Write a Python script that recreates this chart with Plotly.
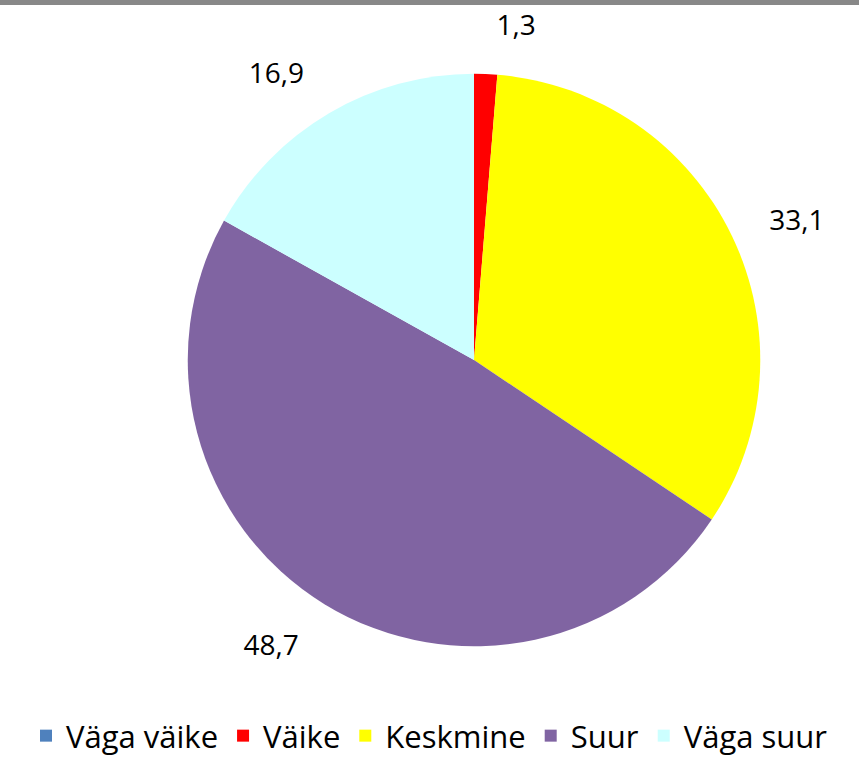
import plotly.graph_objects as go

categories = ["Väga väike", "Väike", "Keskmine", "Suur", "Väga suur"]
values = [0.0, 1.3, 33.1, 48.7, 16.9]
colors = ["#4F81BD", "#FF0000", "#FFFF00", "#8064A2", "#CCFFFF"]

labels_txt = [(f"{v:.1f}".replace(".", ",") if v > 0 else "") for v in values]

W, H = 859, 763
cx, cy, r = 474, 359, 287
r_lab = 318
FONT = "Open Sans, Noto Sans, sans-serif"


def dom(rad):
    return dict(x=[(cx - rad) / W, (cx + rad) / W], y=[(H - cy - rad) / H, (H - cy + rad) / H])


fig = go.Figure()
# visible pie
fig.add_trace(go.Pie(
    labels=categories,
    values=values,
    textinfo="none",
    sort=False,
    direction="clockwise",
    rotation=0,
    marker=dict(colors=colors, line=dict(width=0)),
    domain=dom(r),
    hoverinfo="label+value",
))
# transparent pie carrying the data labels slightly further out
fig.add_trace(go.Pie(
    labels=categories,
    values=values,
    text=labels_txt,
    textinfo="text",
    textposition="outside",
    sort=False,
    direction="clockwise",
    rotation=0,
    marker=dict(colors=["rgba(0,0,0,0)"] * len(values), line=dict(width=0)),
    textfont=dict(family=FONT, size=28, color="#000000"),
    domain=dom(r_lab),
    showlegend=False,
    hoverinfo="skip",
))

fig.update_layout(
    width=W, height=H,
    margin=dict(l=0, r=0, t=0, b=0),
    paper_bgcolor="#FFFFFF",
    plot_bgcolor="#FFFFFF",
    separators=", ",
    showlegend=True,
    legend=dict(
        orientation="h",
        x=0.5, xanchor="center",
        y=0.0, yanchor="bottom",
        font=dict(family=FONT, size=31, color="#000000"),
        traceorder="normal",
        itemclick=False, itemdoubleclick=False,
    ),
    shapes=[dict(type="line", xref="paper", yref="paper", x0=0, x1=1, y0=1, y1=1,
                 line=dict(color="#888888", width=6))],
)

fig.write_html("out.html", config={"displayModeBar": False},
               post_script="document.body.style.margin='0';")
